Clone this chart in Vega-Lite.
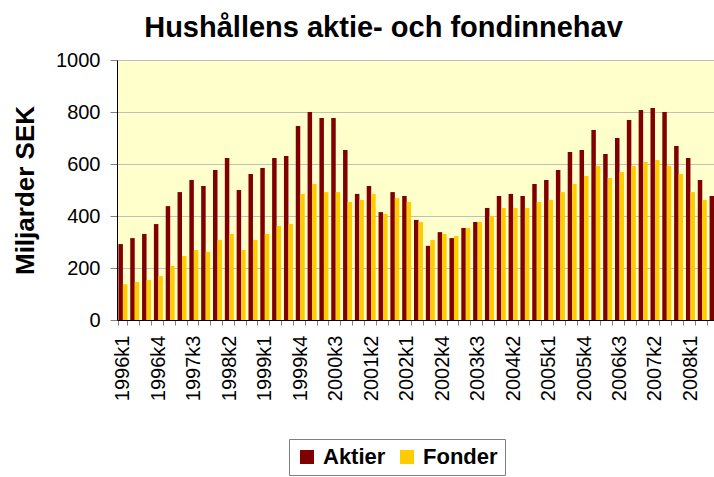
{
  "$schema": "https://vega.github.io/schema/vega-lite/v6.json",
  "autosize": "none",
  "width": 597,
  "height": 260,
  "padding": {"left": 117, "top": 60, "right": 0, "bottom": 157},
  "background": "#FFFFFF",
  "title": {
    "text": "Hushållens aktie- och fondinnehav",
    "font": "Liberation Sans",
    "fontSize": 29,
    "fontWeight": "bold",
    "color": "#000000",
    "anchor": "middle",
    "frame": "group",
    "dx": -32,
    "offset": 7
  },
  "config": {
    "view": {"stroke": null, "fill": "#FFFFCC"},
    "font": "Liberation Sans"
  },
  "data": {
    "values": [
      {"q": "1996k1", "s": "Aktier", "v": 292}, {"q": "1996k1", "s": "Fonder", "v": 138},
      {"q": "1996k2", "s": "Aktier", "v": 315}, {"q": "1996k2", "s": "Fonder", "v": 146},
      {"q": "1996k3", "s": "Aktier", "v": 331}, {"q": "1996k3", "s": "Fonder", "v": 154},
      {"q": "1996k4", "s": "Aktier", "v": 369}, {"q": "1996k4", "s": "Fonder", "v": 169},
      {"q": "1997k1", "s": "Aktier", "v": 438}, {"q": "1997k1", "s": "Fonder", "v": 208},
      {"q": "1997k2", "s": "Aktier", "v": 492}, {"q": "1997k2", "s": "Fonder", "v": 246},
      {"q": "1997k3", "s": "Aktier", "v": 538}, {"q": "1997k3", "s": "Fonder", "v": 269},
      {"q": "1997k4", "s": "Aktier", "v": 515}, {"q": "1997k4", "s": "Fonder", "v": 262},
      {"q": "1998k1", "s": "Aktier", "v": 577}, {"q": "1998k1", "s": "Fonder", "v": 308},
      {"q": "1998k2", "s": "Aktier", "v": 623}, {"q": "1998k2", "s": "Fonder", "v": 331},
      {"q": "1998k3", "s": "Aktier", "v": 500}, {"q": "1998k3", "s": "Fonder", "v": 269},
      {"q": "1998k4", "s": "Aktier", "v": 562}, {"q": "1998k4", "s": "Fonder", "v": 308},
      {"q": "1999k1", "s": "Aktier", "v": 585}, {"q": "1999k1", "s": "Fonder", "v": 331},
      {"q": "1999k2", "s": "Aktier", "v": 623}, {"q": "1999k2", "s": "Fonder", "v": 362},
      {"q": "1999k3", "s": "Aktier", "v": 631}, {"q": "1999k3", "s": "Fonder", "v": 369},
      {"q": "1999k4", "s": "Aktier", "v": 746}, {"q": "1999k4", "s": "Fonder", "v": 485},
      {"q": "2000k1", "s": "Aktier", "v": 800}, {"q": "2000k1", "s": "Fonder", "v": 523},
      {"q": "2000k2", "s": "Aktier", "v": 777}, {"q": "2000k2", "s": "Fonder", "v": 492},
      {"q": "2000k3", "s": "Aktier", "v": 777}, {"q": "2000k3", "s": "Fonder", "v": 492},
      {"q": "2000k4", "s": "Aktier", "v": 654}, {"q": "2000k4", "s": "Fonder", "v": 454},
      {"q": "2001k1", "s": "Aktier", "v": 485}, {"q": "2001k1", "s": "Fonder", "v": 462},
      {"q": "2001k2", "s": "Aktier", "v": 515}, {"q": "2001k2", "s": "Fonder", "v": 485},
      {"q": "2001k3", "s": "Aktier", "v": 415}, {"q": "2001k3", "s": "Fonder", "v": 408},
      {"q": "2001k4", "s": "Aktier", "v": 492}, {"q": "2001k4", "s": "Fonder", "v": 469},
      {"q": "2002k1", "s": "Aktier", "v": 477}, {"q": "2002k1", "s": "Fonder", "v": 454},
      {"q": "2002k2", "s": "Aktier", "v": 385}, {"q": "2002k2", "s": "Fonder", "v": 377},
      {"q": "2002k3", "s": "Aktier", "v": 285}, {"q": "2002k3", "s": "Fonder", "v": 308},
      {"q": "2002k4", "s": "Aktier", "v": 338}, {"q": "2002k4", "s": "Fonder", "v": 331},
      {"q": "2003k1", "s": "Aktier", "v": 315}, {"q": "2003k1", "s": "Fonder", "v": 323},
      {"q": "2003k2", "s": "Aktier", "v": 354}, {"q": "2003k2", "s": "Fonder", "v": 354},
      {"q": "2003k3", "s": "Aktier", "v": 377}, {"q": "2003k3", "s": "Fonder", "v": 377},
      {"q": "2003k4", "s": "Aktier", "v": 431}, {"q": "2003k4", "s": "Fonder", "v": 400},
      {"q": "2004k1", "s": "Aktier", "v": 477}, {"q": "2004k1", "s": "Fonder", "v": 431},
      {"q": "2004k2", "s": "Aktier", "v": 485}, {"q": "2004k2", "s": "Fonder", "v": 431},
      {"q": "2004k3", "s": "Aktier", "v": 477}, {"q": "2004k3", "s": "Fonder", "v": 431},
      {"q": "2004k4", "s": "Aktier", "v": 523}, {"q": "2004k4", "s": "Fonder", "v": 454},
      {"q": "2005k1", "s": "Aktier", "v": 538}, {"q": "2005k1", "s": "Fonder", "v": 462},
      {"q": "2005k2", "s": "Aktier", "v": 577}, {"q": "2005k2", "s": "Fonder", "v": 492},
      {"q": "2005k3", "s": "Aktier", "v": 646}, {"q": "2005k3", "s": "Fonder", "v": 523},
      {"q": "2005k4", "s": "Aktier", "v": 654}, {"q": "2005k4", "s": "Fonder", "v": 554},
      {"q": "2006k1", "s": "Aktier", "v": 731}, {"q": "2006k1", "s": "Fonder", "v": 592},
      {"q": "2006k2", "s": "Aktier", "v": 638}, {"q": "2006k2", "s": "Fonder", "v": 546},
      {"q": "2006k3", "s": "Aktier", "v": 700}, {"q": "2006k3", "s": "Fonder", "v": 569},
      {"q": "2006k4", "s": "Aktier", "v": 769}, {"q": "2006k4", "s": "Fonder", "v": 592},
      {"q": "2007k1", "s": "Aktier", "v": 808}, {"q": "2007k1", "s": "Fonder", "v": 608},
      {"q": "2007k2", "s": "Aktier", "v": 815}, {"q": "2007k2", "s": "Fonder", "v": 615},
      {"q": "2007k3", "s": "Aktier", "v": 800}, {"q": "2007k3", "s": "Fonder", "v": 592},
      {"q": "2007k4", "s": "Aktier", "v": 669}, {"q": "2007k4", "s": "Fonder", "v": 562},
      {"q": "2008k1", "s": "Aktier", "v": 623}, {"q": "2008k1", "s": "Fonder", "v": 492},
      {"q": "2008k2", "s": "Aktier", "v": 538}, {"q": "2008k2", "s": "Fonder", "v": 462},
      {"q": "2008k3", "s": "Aktier", "v": 477}
    ]
  },
  "mark": {"type": "bar", "clip": true},
  "encoding": {
    "x": {
      "field": "q",
      "type": "nominal",
      "sort": null,
      "scale": {"range": [0, 603], "paddingInner": 0.24, "paddingOuter": 0.12},
      "axis": {
        "title": null,
        "labelAngle": 270,
        "labelAlign": "right",
        "labelBaseline": "middle",
        "labelFont": "Liberation Sans",
        "labelFontSize": 20,
        "labelColor": "#000000",
        "labelPadding": 10,
        "labelOverlap": false,
        "labelBound": false,
        "labelFlush": false,
        "labelExpr": "(parseInt(substring(datum.value,0,4))*4 + parseInt(substring(datum.value,5,6))) % 3 == 2 ? datum.value : ''",
        "tickBand": "extent",
        "tickSize": 5,
        "tickColor": "#808080",
        "tickWidth": 1,
        "domainColor": "#000000",
        "domainWidth": 1,
        "grid": false
      }
    },
    "xOffset": {"field": "s", "type": "nominal", "scale": {"paddingInner": 0}},
    "y": {
      "field": "v",
      "type": "quantitative",
      "scale": {"domain": [0, 1000], "nice": false},
      "axis": {
        "title": "Miljarder SEK",
        "titleFont": "Liberation Sans",
        "titleFontSize": 26,
        "titleFontWeight": "bold",
        "titleColor": "#000000",
        "titlePadding": 17,
        "values": [0, 200, 400, 600, 800, 1000],
        "format": "d",
        "labelFont": "Liberation Sans",
        "labelFontSize": 20,
        "labelColor": "#000000",
        "labelPadding": 10,
        "tickSize": 7,
        "tickColor": "#808080",
        "domainColor": "#000000",
        "gridColor": "#C0C0C0",
        "gridWidth": 1
      }
    },
    "color": {
      "field": "s",
      "type": "nominal",
      "scale": {"domain": ["Aktier", "Fonder"], "range": ["#800000", "#FFCC00"]},
      "legend": {
        "title": null,
        "orient": "none",
        "legendX": 172,
        "legendY": 379,
        "direction": "horizontal",
        "symbolType": "square",
        "symbolSize": 196,
        "symbolStrokeWidth": 0,
        "labelFont": "Liberation Sans",
        "labelFontSize": 22,
        "labelFontWeight": "bold",
        "labelColor": "#000000",
        "labelOffset": 5,
        "columnPadding": 10,
        "padding": 7,
        "strokeColor": "#808080",
        "fillColor": "#FFFFFF"
      }
    }
  }
}
